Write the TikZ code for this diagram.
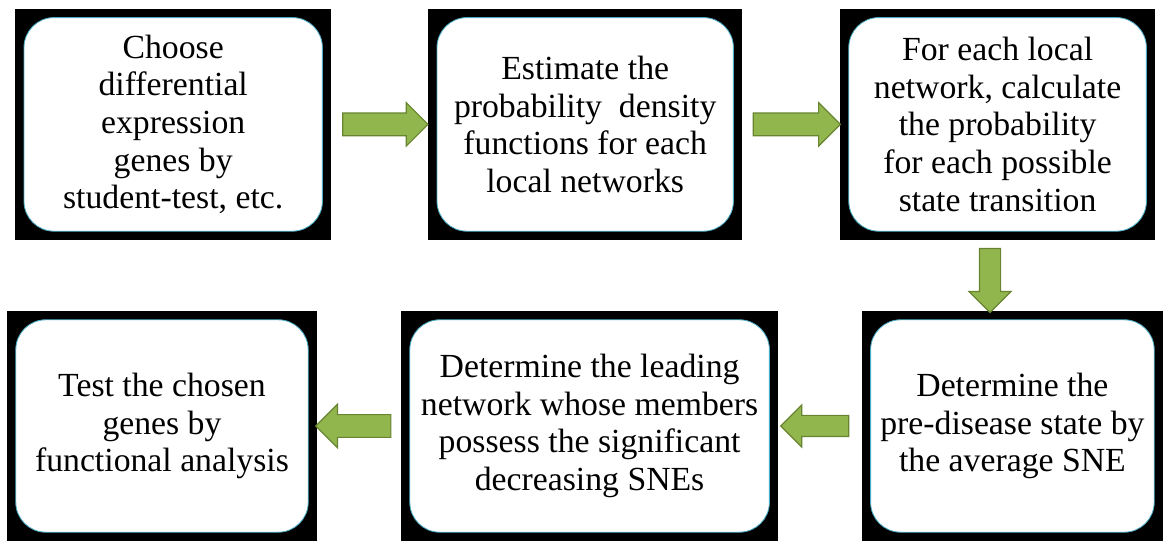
\documentclass[tikz,border=0pt]{standalone}
\usepackage{fontspec}
\newfontfamily\stepfont{Liberation Serif}
\usetikzlibrary{shapes.arrows,calc}

\definecolor{framecyan}{RGB}{75,172,198}
\definecolor{arrowgreen}{RGB}{146,182,78}
\definecolor{arrowline}{RGB}{104,132,48}

\tikzset{
  frame/.style = {fill = black, inner sep = 0pt, minimum height = 5.78cm},
  stepbox/.style = {fill = white, draw = framecyan, line width = 0.6pt,
                    rounded corners = 0.75cm, align = center, inner sep = 0pt,
                    font = \stepfont\fontsize{24}{26.7}\selectfont, minimum height = 5.34cm},
  flow/.style = {single arrow, draw = arrowline, fill = arrowgreen,
                 line width = 0.8pt, inner xsep = 0pt, inner ysep = 0.27cm,
                 single arrow head extend = 0.26cm, single arrow tip angle = 90}
}

\begin{document}
\begin{tikzpicture}
        \useasboundingbox (0, 0) rectangle (29.1, 13.55);

        % ------------------------------------------------------------------------
        % Top row
        \node[frame, minimum width = 7.90cm] at ( 4.33, 10.44) (f1) {};
        \node[stepbox, minimum width = 7.46cm] at (f1) (s1)
          {Choose\\differential\\expression\\genes by\\student-test, etc.};

        \node[frame, minimum width = 7.85cm] at (14.63, 10.44) (f2) {};
        \node[stepbox, minimum width = 7.41cm] at (f2) (s2)
          {Estimate the\\probability\ \ density\\functions for each\\local networks};

        \node[frame, minimum width = 7.88cm] at (24.94, 10.44) (f3) {};
        \node[stepbox, minimum width = 7.44cm] at (f3) (s3)
          {For each local\\network, calculate\\the probability\\for each possible\\state transition};

        % ------------------------------------------------------------------------
        % Bottom row
        \node[frame, minimum width = 7.53cm, minimum height = 5.75cm] at (25.31, 2.90) (f6) {};
        \node[stepbox, minimum width = 7.09cm, minimum height = 5.31cm] at (f6) (s6)
          {Determine the\\pre-disease state by\\the average SNE};

        \node[frame, minimum width = 9.43cm, minimum height = 5.75cm] at (14.74, 2.90) (f5) {};
        \node[stepbox, minimum width = 8.99cm, minimum height = 5.31cm] at (f5) (s5)
          {Determine the leading\\network whose members\\possess the significant\\decreasing SNEs};

        \node[frame, minimum width = 7.75cm, minimum height = 5.75cm] at ( 4.05, 2.90) (f4) {};
        \node[stepbox, minimum width = 7.31cm, minimum height = 5.31cm] at (f4) (s4)
          {Test the chosen\\genes by\\functional analysis};

        % ------------------------------------------------------------------------
        % Arrows
        \node[flow, minimum height = 2.13cm] at ($(f1.east)!0.5!(f2.west)$) (a12) {};
        \node[flow, minimum height = 2.18cm] at ($(f2.east)!0.5!(f3.west)$) (a23) {};
        \node[flow, minimum height = 1.60cm, inner ysep = 0.25cm, rotate = -90] at (24.75, 6.67) (a36) {};
        \node[flow, minimum height = 1.70cm, inner ysep = 0.25cm, rotate = 180] at ($(f6.west)!0.5!(f5.east)$) (a65) {};
        \node[flow, minimum height = 1.88cm, rotate = 180] at ($(f5.west)!0.5!(f4.east)$) (a54) {};
\end{tikzpicture}
\end{document}
